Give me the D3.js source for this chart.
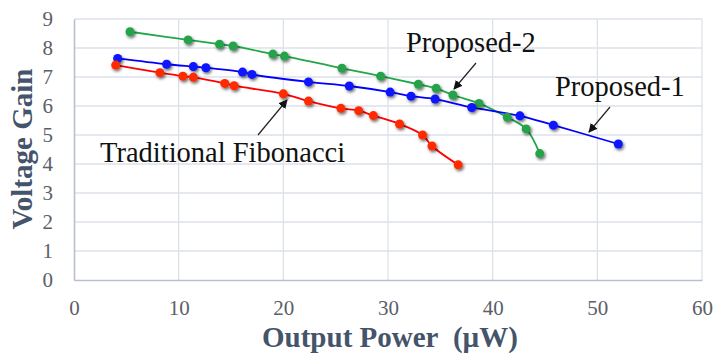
<!DOCTYPE html>
<html>
<head>
<meta charset="utf-8">
<script src="https://cdn.jsdelivr.net/npm/d3@7"></script>
<style>
  body { margin: 0; background: #fff; }
  svg { display: block; }
  text { font-family: "Liberation Serif", "Times New Roman", serif; }
</style>
</head>
<body>
<script>
// Proposed-2 (green)
const p2X = [5.35, 10.9, 13.9, 15.2, 19.0, 20.1, 25.6, 29.3, 32.9, 34.6, 36.2, 38.7, 41.4, 43.2, 44.5];
const p2Y = [8.56, 8.28, 8.13, 8.07, 7.79, 7.72, 7.30, 7.03, 6.75, 6.61, 6.38, 6.09, 5.61, 5.21, 4.36];
// Proposed-1 (blue)
const p1X = [4.17, 8.85, 11.4, 12.6, 16.1, 17.0, 22.4, 26.3, 30.2, 32.2, 34.5, 38.0, 42.6, 45.8, 52.0];
const p1Y = [7.64, 7.44, 7.36, 7.32, 7.17, 7.09, 6.83, 6.69, 6.48, 6.34, 6.24, 5.95, 5.66, 5.34, 4.69];
// Traditional Fibonacci (red)
const tfX = [3.98, 8.2, 10.4, 11.4, 14.4, 15.3, 20.0, 22.4, 25.5, 27.2, 28.6, 31.1, 33.3, 34.2, 36.7];
const tfY = [7.41, 7.15, 7.03, 6.99, 6.78, 6.70, 6.42, 6.17, 5.92, 5.84, 5.67, 5.38, 5.00, 4.62, 3.97];

const xTicks = [0, 10, 20, 30, 40, 50, 60];
const yTicks = [0, 1, 2, 3, 4, 5, 6, 7, 8, 9];

const series = [
  { name: "Proposed-2", xs: p2X, ys: p2Y, color: "#1fa84a", dot: "#27a24c" },
  { name: "Proposed-1", xs: p1X, ys: p1Y, color: "#0000ff", dot: "#0a14ff" },
  { name: "Traditional Fibonacci", xs: tfX, ys: tfY, color: "#ff0000", dot: "#ff2a00" }
];

const W = 714, H = 358;
const plot = { left: 74, right: 702, top: 19, bottom: 280 };
const serif = "'Liberation Serif', 'Times New Roman', serif";

const x = d3.scaleLinear().domain([0, 60]).range([plot.left, plot.right]);
const y = d3.scaleLinear().domain([0, 9]).range([plot.bottom, plot.top]);

const svg = d3.select("body").append("svg")
  .attr("width", W).attr("height", H);

const defs = svg.append("defs");
const f = defs.append("filter").attr("id", "shadow")
  .attr("x", "-100%").attr("y", "-100%").attr("width", "300%").attr("height", "300%");
f.append("feDropShadow").attr("dx", 1.3).attr("dy", 1.8)
  .attr("stdDeviation", 1.5).attr("flood-color", "#000").attr("flood-opacity", 0.6);
defs.append("marker").attr("id", "arrow")
  .attr("viewBox", "0 0 10 10").attr("refX", 9).attr("refY", 5)
  .attr("markerWidth", 9).attr("markerHeight", 9).attr("orient", "auto")
  .attr("markerUnits", "userSpaceOnUse")
  .append("path").attr("d", "M0,0 L10,5 L0,10 z").attr("fill", "#111");

// grid
const grid = svg.append("g");
grid.selectAll("line.h").data(yTicks.filter(d => d > 0)).join("line")
  .attr("x1", plot.left).attr("x2", plot.right)
  .attr("y1", d => y(d)).attr("y2", d => y(d))
  .attr("stroke", "#dde2ea").attr("stroke-width", 1.3);
grid.selectAll("line.v").data(xTicks.filter(d => d > 0)).join("line")
  .attr("y1", plot.top).attr("y2", plot.bottom)
  .attr("x1", d => x(d)).attr("x2", d => x(d))
  .attr("stroke", "#dde2ea").attr("stroke-width", 1.3);

// axes
const xAxis = svg.append("g")
  .attr("transform", `translate(0,${plot.bottom})`)
  .call(d3.axisBottom(x).tickValues(xTicks).tickSize(0).tickPadding(20));
const yAxis = svg.append("g")
  .attr("transform", `translate(${plot.left},0)`)
  .call(d3.axisLeft(y).tickValues(yTicks).tickSize(0).tickPadding(21));
[xAxis, yAxis].forEach(a => {
  a.attr("font-family", serif).attr("font-size", 21);
  a.select(".domain").attr("stroke", "#b8c0cf").attr("stroke-width", 1.6);
  a.selectAll("text").attr("fill", "#5a6068");
});

// series
const line = d3.line().curve(d3.curveCatmullRom.alpha(0.5))
  .x(d => x(d[0])).y(d => y(d[1]));

series.forEach(s => {
  const pts = s.xs.map((v, i) => [v, s.ys[i]]);
  svg.append("path").datum(pts)
    .attr("fill", "none").attr("stroke", s.color).attr("stroke-width", 1.8)
    .attr("d", line);
});
series.forEach(s => {
  const pts = s.xs.map((v, i) => [v, s.ys[i]]);
  svg.append("g").attr("filter", "url(#shadow)")
    .selectAll("circle").data(pts).join("circle")
    .attr("cx", d => x(d[0])).attr("cy", d => y(d[1])).attr("r", 4.5)
    .attr("fill", s.dot);
});

// annotations
const labels = [
  { text: "Proposed-2", x: 406, y: 52, from: [476, 63], to: [454, 89] },
  { text: "Proposed-1", x: 555, y: 96, from: [610, 107], to: [589, 132] },
  { text: "Traditional Fibonacci", x: 100, y: 162, from: [258, 135], to: [287, 100] }
];
labels.forEach(l => {
  svg.append("text").attr("x", l.x).attr("y", l.y)
    .attr("font-family", serif).attr("font-size", 28.5)
    .attr("fill", "#111").text(l.text);
  svg.append("line")
    .attr("x1", l.from[0]).attr("y1", l.from[1])
    .attr("x2", l.to[0]).attr("y2", l.to[1])
    .attr("stroke", "#222").attr("stroke-width", 1.2)
    .attr("marker-end", "url(#arrow)");
});

// axis titles
svg.append("text")
  .attr("x", 390).attr("y", 347).attr("text-anchor", "middle")
  .attr("font-family", serif).attr("font-size", 29).attr("font-weight", "bold")
  .attr("fill", "#44546a")
  .style("white-space", "pre")
  .text("Output Power\u00a0\u00a0(\u00b5W)");
svg.append("text")
  .attr("transform", "translate(32,149) rotate(-90)")
  .attr("text-anchor", "middle")
  .attr("font-family", serif).attr("font-size", 29).attr("font-weight", "bold")
  .attr("fill", "#44546a")
  .text("Voltage Gain");
</script>
</body>
</html>
